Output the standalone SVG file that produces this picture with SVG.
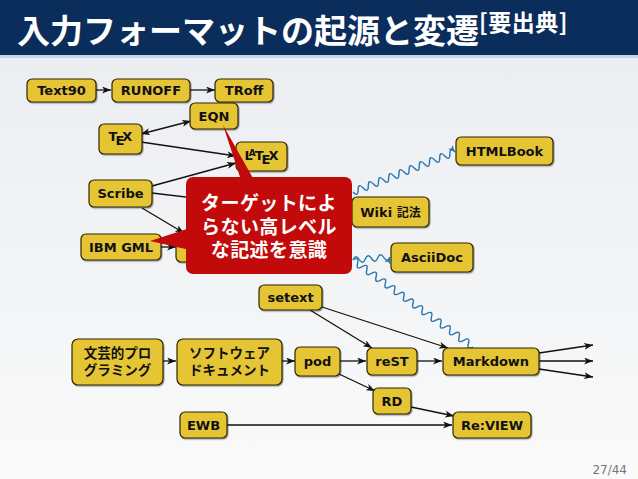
<svg xmlns="http://www.w3.org/2000/svg" width="638" height="479" viewBox="0 0 638 479">
<defs>
<linearGradient id="bg" x1="0" y1="0" x2="0" y2="1">
<stop offset="0" stop-color="#e9ecf0"/>
<stop offset="1" stop-color="#fafafa"/>
</linearGradient>
<filter id="sh" x="-10%" y="-10%" width="130%" height="140%">
<feDropShadow dx="1" dy="1.2" stdDeviation="0.7" flood-color="#000" flood-opacity="0.35"/>
</filter>
<marker id="ah" viewBox="0 0 9 7" refX="9" refY="3.5" markerWidth="9" markerHeight="7" markerUnits="userSpaceOnUse" orient="auto-start-reverse">
<path d="M0,0 L9,3.5 L0,7 L2.5,3.5 z" fill="#111"/>
</marker>
<marker id="bh" viewBox="0 0 7 6" refX="7" refY="3" markerWidth="7" markerHeight="6" markerUnits="userSpaceOnUse" orient="auto">
<path d="M0,0 L7,3 L0,6 L2,3 z" fill="#2a78b0"/>
</marker>
<style>
.n{fill:#e6c535;stroke:#2e2600;stroke-width:1.2;filter:url(#sh)}
.t{font-family:"DejaVu Sans","Noto Sans CJK JP",sans-serif;font-weight:bold;font-size:13px;fill:#111;text-anchor:middle}
.j{font-family:"Noto Sans CJK JP",sans-serif;font-weight:bold;font-size:13.5px;fill:#111;text-anchor:middle}
.c{fill:none;stroke:#111;stroke-width:1.3;marker-end:url(#ah)}
.w{fill:none;stroke:#2a78b0;stroke-width:1.4;marker-end:url(#bh)}
.co{fill:#c20a0a}
.ct{font-family:"Noto Sans CJK JP",sans-serif;font-weight:bold;font-size:19px;fill:#fff;text-anchor:middle;letter-spacing:0.4px}
</style>
</defs>
<rect width="638" height="479" fill="url(#bg)"/>
<rect width="638" height="55" fill="#0b2d5b"/>
<rect y="55" width="638" height="3" fill="#c7d4e8"/>
<text x="17" y="43" font-family="Noto Sans CJK JP,sans-serif" font-size="33" font-weight="bold" fill="#fff">入力フォーマットの起源と変遷<tspan font-size="23" dy="-12" letter-spacing="0.5">[要出典]</tspan></text>

<g id="connectors">
<path class="c" d="M96,90 L111,90"/>
<path class="c" d="M190,90 L215,90"/>
<path class="c" d="M141,134 L191,121" marker-start="url(#ah)"/>
<path class="c" d="M141,142 L236,156"/>
<path class="c" d="M152,186 L236,163"/>
<path class="c" d="M152,193 L262,206"/>
<path class="c" d="M142,208 L184,233"/>
<path class="c" d="M161,247 L176,247"/>
<path class="c" d="M163,361 L176,361"/>
<path class="c" d="M282,361 L295,361"/>
<path class="c" d="M310,310 L372,348"/>
<path class="c" d="M322,307 L448,348"/>
<path class="c" d="M340,361 L366,361"/>
<path class="c" d="M417,361 L442,361"/>
<path class="c" d="M339,374 L375,391"/>
<path class="c" d="M411,407 L454,416"/>
<path class="c" d="M227,425 L452,425"/>
<path class="c" d="M539,353 L593,345"/>
<path class="c" d="M539,361 L593,361"/>
<path class="c" d="M539,369 L593,377"/>
<path class="w" d="M353,192 Q358.1,197.5 358.1,190 T363.2,188 T368.3,186 T373.4,184 T378.5,182 T383.6,180 T388.7,178 T393.8,176 T398.9,174 T404,172 T409.1,170 T414.2,168 T419.3,166 T424.4,164 T429.5,162 T434.6,160 T439.7,158 T444.8,156 T449.9,154 T455,152"/>
<path class="w" d="M353,260 Q355.6,253.8 359.2,259.5 T365.3,259 T371.5,258.5 T377.7,258 T383.8,257.5 T390,257"/>
<path class="w" d="M353,260 Q359.4,256 357.6,263.3 T362.2,266.7 T366.8,270 T371.5,273.4 T376.1,276.7 T380.7,280.1 T385.3,283.4 T389.9,286.8 T394.5,290.1 T399.2,293.5 T403.8,296.8 T408.4,300.2 T413,303.5 T417.6,306.8 T422.2,310.2 T426.8,313.5 T431.5,316.9 T436.1,320.2 T440.7,323.6 T445.3,326.9 T449.9,330.3 T454.5,333.6 T459.1,337 T463.8,340.3 T468.4,343.7 T473,347"/>
</g>

<g id="text90"><rect class="n" x="27" y="79" width="69" height="23" rx="5"/><text class="t" x="61.5" y="95">Text90</text></g>
<g id="runoff"><rect class="n" x="112" y="79" width="78" height="23" rx="5"/><text class="t" x="151" y="95">RUNOFF</text></g>
<g id="troff"><rect class="n" x="215" y="79" width="58" height="23" rx="5"/><text class="t" x="244" y="95">TRoff</text></g>
<g id="eqn"><rect class="n" x="190" y="103" width="48" height="26" rx="5"/><text class="t" x="214" y="121">EQN</text></g>
<g id="tex"><rect class="n" x="99" y="124" width="43" height="30" rx="5"/><text class="t" x="120.5" y="141">T<tspan dx="-2" dy="4">E</tspan><tspan dx="-2" dy="-4">X</tspan></text></g>
<g id="latex"><rect class="n" x="236" y="142" width="51" height="29" rx="5"/><text class="t" x="261.5" y="160">L<tspan dx="-4" dy="-4" font-size="9">A</tspan><tspan dx="-1" dy="4">T</tspan><tspan dx="-2" dy="4">E</tspan><tspan dx="-2" dy="-4">X</tspan></text></g>
<g id="scribe"><rect class="n" x="89" y="180" width="63" height="27" rx="5"/><text class="t" x="120.5" y="198">Scribe</text></g>
<g id="ibmgml"><rect class="n" x="81" y="234" width="80" height="26" rx="5"/><text class="t" x="121" y="252">IBM GML</text></g>
<g id="sgml"><rect class="n" x="176" y="242" width="60" height="20" rx="5"/><text class="t" x="206" y="257">SGML</text></g>
<g id="htmlbook"><rect class="n" x="456" y="137" width="97" height="28" rx="5"/><text class="t" x="504.5" y="156">HTMLBook</text></g>
<g id="wiki"><rect class="n" x="352" y="197" width="77" height="30" rx="5"/><text class="t" x="390.5" y="217">Wiki <tspan font-family="Noto Sans CJK JP,sans-serif" font-size="12">記法</tspan></text></g>
<g id="asciidoc"><rect class="n" x="391" y="243" width="82" height="29" rx="5"/><text class="t" x="432" y="262">AsciiDoc</text></g>
<g id="setext"><rect class="n" x="259" y="285" width="63" height="25" rx="5"/><text class="t" x="290.5" y="302">setext</text></g>
<g id="literate"><rect class="n" x="72" y="339" width="91" height="46" rx="6"/><text class="j" x="117.5" y="358">文芸的プロ</text><text class="j" x="117.5" y="375">グラミング</text></g>
<g id="softdoc"><rect class="n" x="177" y="339" width="105" height="46" rx="6"/><text class="j" x="229.5" y="358">ソフトウェア</text><text class="j" x="229.5" y="375">ドキュメント</text></g>
<g id="pod"><rect class="n" x="295" y="347" width="45" height="29" rx="5"/><text class="t" x="317.5" y="366">pod</text></g>
<g id="rest"><rect class="n" x="367" y="348" width="50" height="27" rx="5"/><text class="t" x="392" y="366">reST</text></g>
<g id="markdown"><rect class="n" x="443" y="348" width="96" height="27" rx="5"/><text class="t" x="491" y="366">Markdown</text></g>
<g id="rd"><rect class="n" x="373" y="388" width="38" height="26" rx="5"/><text class="t" x="392" y="406">RD</text></g>
<g id="ewb"><rect class="n" x="180" y="412" width="47" height="26" rx="5"/><text class="t" x="203.5" y="430">EWB</text></g>
<g id="review"><rect class="n" x="453" y="412" width="78" height="26" rx="5"/><text class="t" x="492" y="430">Re:VIEW</text></g>

<g id="callout">
<polygon class="co" points="223,125 241,180 254,180"/>
<polygon class="co" points="150,241 190,228 190,250"/>
<rect class="co" x="186" y="177" width="166" height="97" rx="7"/>
<text class="ct" x="269" y="210">ターゲットによ</text>
<text class="ct" x="269" y="234">らない高レベル</text>
<text class="ct" x="269" y="257">な記述を意識</text>
</g>

<text x="627" y="474" font-family="DejaVu Sans,sans-serif" font-size="12" fill="#777" text-anchor="end">27/44</text>
</svg>
